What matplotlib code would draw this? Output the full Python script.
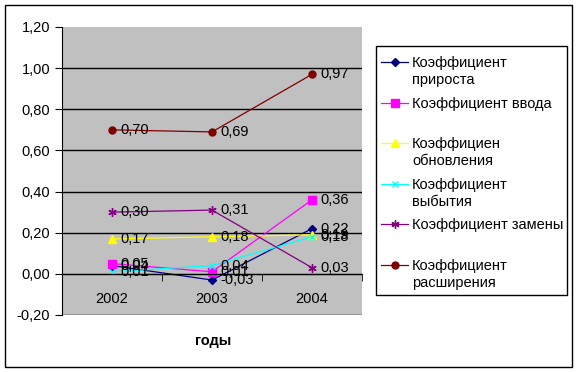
import numpy as np
import matplotlib.pyplot as plt
from matplotlib.patches import Rectangle
from matplotlib.lines import Line2D

plt.rcParams['font.family'] = ['Liberation Sans', 'DejaVu Sans']
plt.rcParams['font.size'] = 10

years = ['2002', '2003', '2004']
growth = [0.04, -0.03, 0.22]
intake = [0.05, 0.01, 0.36]
renewal = [0.17, 0.18, 0.19]
retire = [0.01, 0.04, 0.18]
replace = [0.30, 0.31, 0.03]
expand = [0.70, 0.69, 0.97]

names = ['Коэффициент\nприроста', 'Коэффициент ввода', 'Коэффициен\nобновления',
         'Коэффициент\nвыбытия', 'Коэффициент замены', 'Коэффициент\nрасширения']
colors = ['#000080', '#FF00FF', '#FFFF00', '#00FFFF', '#800080', '#800000']
markers = ['D', 's', '^', 'x', (6, 2, 0), 'o']
msizes = [4, 6, 6, 5, 6, 5]
series = [growth, intake, renewal, retire, replace, expand]

W, H = 577, 372
fig = plt.figure(figsize=(W / 100, H / 100), dpi=100)
fig.patches.append(Rectangle((5 / W, 5 / H), 567 / W, 362 / H, transform=fig.transFigure,
                             fill=False, edgecolor='black', lw=1))

ax = fig.add_axes([62 / W, 1 - 315 / H, 300 / W, 288 / H])
ax.set_facecolor('#C0C0C0')
x = np.arange(len(years))

for vals, c, m, ms in zip(series, colors, markers, msizes):
    ax.plot(x, vals, color=c, lw=0.9, marker=m, ms=ms, mec=c, mfc=c, mew=1)
    for xi, v in zip(x, vals):
        ax.annotate(f'{v:.2f}'.replace('.', ','), (xi, v), xytext=(6, 0),
                    textcoords='offset points', ha='left', va='center', fontsize=10.5)

ax.set_xlim(-0.5, 2.5)
ax.set_ylim(-0.2, 1.2)
yt = np.arange(-0.2, 1.21, 0.2)
ax.set_yticks(yt)
ax.set_yticklabels([f'{v:.2f}'.replace('.', ',') for v in yt])
for v in yt[1:-1]:
    ax.axhline(v, color='black', lw=1, zorder=1)

ax.spines['bottom'].set_position(('data', 0))
ax.spines['bottom'].set_color('black')
ax.spines['left'].set_color('black')
ax.spines['top'].set_visible(False)
ax.spines['right'].set_visible(False)
ax.axhline(-0.2, color='#909090', lw=1.2)

ax.set_xticks(x)
ax.set_xticklabels(years)
ax.set_xticks([-0.5, 0.5, 1.5, 2.5], minor=True)
ax.tick_params(axis='x', which='major', length=0, pad=13, labelsize=10.5)
ax.tick_params(axis='x', which='minor', length=5, direction='out')
ax.tick_params(axis='y', length=5, direction='out', labelsize=10.5)

fig.text(213 / W, 1 - 341 / H, 'годы', ha='center', va='center', fontweight='bold', fontsize=10.5)

# legend drawn by hand
fig.patches.append(Rectangle((376 / W, 1 - 295 / H), 191 / W, 249 / H, transform=fig.transFigure,
                             fill=False, edgecolor='black', lw=1))
for i, (name, c, m, ms) in enumerate(zip(names, colors, markers, msizes)):
    yc = 62 + i * 40.6
    fig.lines.append(Line2D([381 / W, 408 / W], [1 - yc / H] * 2, transform=fig.transFigure,
                            color=c, lw=0.9))
    fig.lines.append(Line2D([394.5 / W], [1 - yc / H], transform=fig.transFigure,
                            color=c, marker=m, ms=ms, mec=c, mfc=c, mew=1))
    for j, line in enumerate(name.split('\n')):
        fig.text(412 / W, 1 - (yc + 5 + 17 * j) / H, line, ha='left', va='baseline',
                 fontsize=10.5)

fig.savefig('out.png', dpi=100)
